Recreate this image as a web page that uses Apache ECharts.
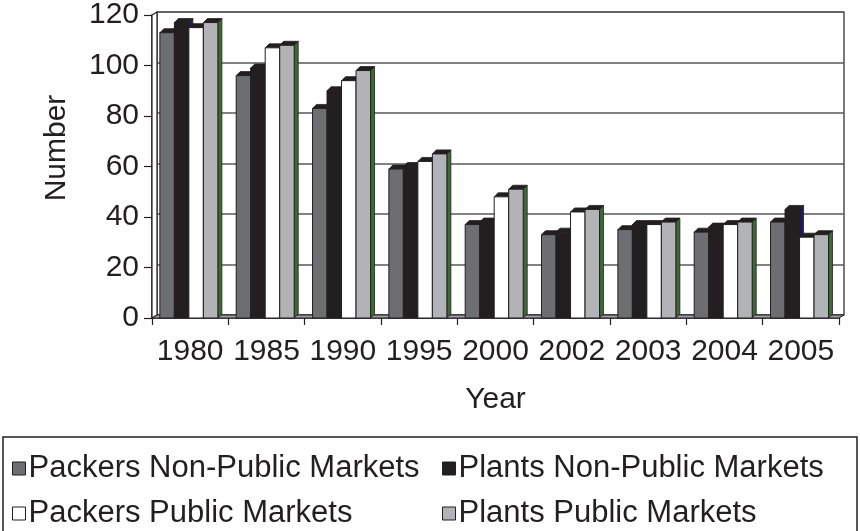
<!DOCTYPE html>
<html>
<head>
<meta charset="utf-8">
<script src="https://cdn.jsdelivr.net/npm/echarts@6/dist/echarts.min.js"></script>
<style>
  html, body { margin: 0; padding: 0; background: #ffffff; }
  #chart { width: 860px; height: 531px; }
</style>
</head>
<body>
<div id="chart"></div>
<script>
// Number of packers and plants buying through non-public and public markets
const years = ['1980', '1985', '1990', '1995', '2000', '2002', '2003', '2004', '2005'];
const packersNonPublic = [113, 96, 83, 59, 37, 33, 35, 34, 38];
const plantsNonPublic  = [117, 99, 90, 60, 38, 34, 37, 36, 43];
const packersPublic    = [115, 107, 94, 62, 48, 42, 37, 37, 32];
const plantsPublic     = [117, 108, 98, 65, 51, 43, 38, 38, 33];
const seriesNames = [
  'Packers Non-Public Markets',
  'Plants Non-Public Markets',
  'Packers Public Markets',
  'Plants Public Markets'
];
const yMin = 0, yMax = 120, yStep = 20;

// ---- styling ----
const FONT = "'Liberation Sans', Arial, Helvetica, sans-serif";
const INK = '#231f20';
const faceColors = ['#6d6e71', '#231f20', '#ffffff', '#b1b3b6'];
const sideColors = ['#3a3b3d', '#1b1b5e', '#3a3b3d', '#3b6a34'];
const BAR_RATIO = 0.19;     // bar width as a share of the category band
const GROUP_SHIFT = -1.3;   // nudge of the bar cluster inside its band
const DX = 4, DY = -4;      // bar depth
const WALL_DX = 5, WALL_DY = -3; // depth of the back wall

const valueSets = [packersNonPublic, plantsNonPublic, packersPublic, plantsPublic];

function barRenderer(slot) {
  return function (params, api) {
    const idx = api.value(0);
    const v = api.value(1);
    const band = api.size([1, 0])[0];
    const base = api.coord([idx, 0]);
    const top = api.coord([idx, v]);
    const w = band * BAR_RATIO;
    const x0 = base[0] - 2 * w + GROUP_SHIFT + slot * w;
    const ty = top[1], by = base[1];
    return {
      type: 'group',
      children: [
        { type: 'polygon', shape: { points: [[x0 + w, ty], [x0 + w + DX, ty + DY], [x0 + w + DX, by + DY], [x0 + w, by]] },
          style: { fill: sideColors[slot], stroke: INK, lineWidth: 0.8 } },
        { type: 'polygon', shape: { points: [[x0, ty], [x0 + DX, ty + DY], [x0 + w + DX, ty + DY], [x0 + w, ty]] },
          style: { fill: INK, stroke: INK, lineWidth: 0.8 } },
        { type: 'rect', shape: { x: x0, y: ty, width: w, height: by - ty },
          style: { fill: faceColors[slot], stroke: INK, lineWidth: 1 } }
      ]
    };
  };
}

// Floor strip and left wall of the plot box
function frameRenderer(params, api) {
  const c = params.coordSys;
  const x = c.x, y = c.y, w = c.width, h = c.height;
  return {
    type: 'group',
    children: [
      { type: 'polygon', shape: { points: [[x, y], [x + WALL_DX, y + WALL_DY], [x + WALL_DX, y + h + WALL_DY], [x, y + h]] },
        style: { fill: '#ffffff', stroke: INK, lineWidth: 1.2 } },
      { type: 'polygon', shape: { points: [[x, y + h], [x + WALL_DX, y + h + WALL_DY], [x + w + WALL_DX, y + h + WALL_DY], [x + w, y + h]] },
        style: { fill: '#9d9fa2', stroke: INK, lineWidth: 1 } }
    ]
  };
}

const chart = echarts.init(document.getElementById('chart'), null, { renderer: 'canvas' });

const series = [
  { type: 'custom', name: 'frame', xAxisIndex: 0, yAxisIndex: 0, z: 1, silent: true,
    renderItem: frameRenderer, data: [[0, 0]], encode: { x: 0, y: 1 } }
];
valueSets.forEach(function (vals, slot) {
  series.push({
    type: 'custom',
    name: seriesNames[slot],
    xAxisIndex: 0, yAxisIndex: 0, z: 2, silent: true,
    itemStyle: { color: faceColors[slot], borderColor: INK, borderWidth: 1 },
    renderItem: barRenderer(slot),
    encode: { x: 0, y: 1 },
    data: vals.map(function (v, i) { return [i, v]; })
  });
});

const legendCommon = {
  orient: 'vertical',
  top: 453,
  itemGap: 14,
  itemWidth: 13,
  itemHeight: 13,
  icon: 'rect',
  selectedMode: false,
  padding: 0,
  textStyle: { fontSize: 31, lineHeight: 30, color: INK, fontFamily: FONT, padding: [0, 0, 0, -2] }
};
function legendItem(slot) {
  return { name: seriesNames[slot], icon: 'rect',
           itemStyle: { color: faceColors[slot], borderColor: INK, borderWidth: 1 } };
}

chart.setOption({
  animation: false,
  backgroundColor: '#ffffff',
  textStyle: { fontFamily: FONT },
  grid: [
    { left: 152, top: 15, width: 687, height: 303 },
    { left: 152 + WALL_DX, top: 15 + WALL_DY, width: 687, height: 303,
      show: true, borderColor: INK, borderWidth: 1.2, backgroundColor: 'transparent' }
  ],
  xAxis: [
    { type: 'category', gridIndex: 0, data: years,
      name: 'Year', nameLocation: 'middle', nameGap: 67,
      nameTextStyle: { fontSize: 30, color: INK, fontFamily: FONT },
      axisLine: { show: true, lineStyle: { color: INK, width: 1.5 } },
      axisTick: { show: true, length: 7, interval: 0, lineStyle: { color: INK, width: 1.2 } },
      axisLabel: { interval: 0, hideOverlap: false, margin: 19, fontSize: 30, color: INK, fontFamily: FONT },
      splitLine: { show: false } },
    { type: 'category', gridIndex: 1, data: years, show: false }
  ],
  yAxis: [
    { type: 'value', gridIndex: 0, min: yMin, max: yMax, interval: yStep,
      axisLine: { show: true, lineStyle: { color: INK, width: 1.5 } },
      axisTick: { show: true, length: 8, lineStyle: { color: INK, width: 1.2 } },
      axisLabel: { margin: 13, fontSize: 30, color: INK, fontFamily: FONT },
      splitLine: { show: false } },
    { type: 'value', gridIndex: 1, min: yMin, max: yMax, interval: yStep,
      axisLine: { show: false }, axisTick: { show: false }, axisLabel: { show: false },
      splitLine: { show: true, lineStyle: { color: '#58595b', width: 1.5 } } }
  ],
  legend: [
    Object.assign({ left: 12, data: [legendItem(0), legendItem(2)] }, legendCommon),
    Object.assign({ left: 442, data: [legendItem(1), legendItem(3)] }, legendCommon)
  ],
  graphic: [
    { type: 'rect', shape: { x: 3, y: 437, width: 854, height: 120 },
      style: { fill: 'none', stroke: INK, lineWidth: 1.5 }, z: 0 },
    { type: 'text', x: 57, y: 148, rotation: Math.PI / 2,
      style: { text: 'Number', fontSize: 30, fontFamily: FONT, fill: INK, align: 'center', verticalAlign: 'middle' } }
  ],
  series: series
});
</script>
</body>
</html>
